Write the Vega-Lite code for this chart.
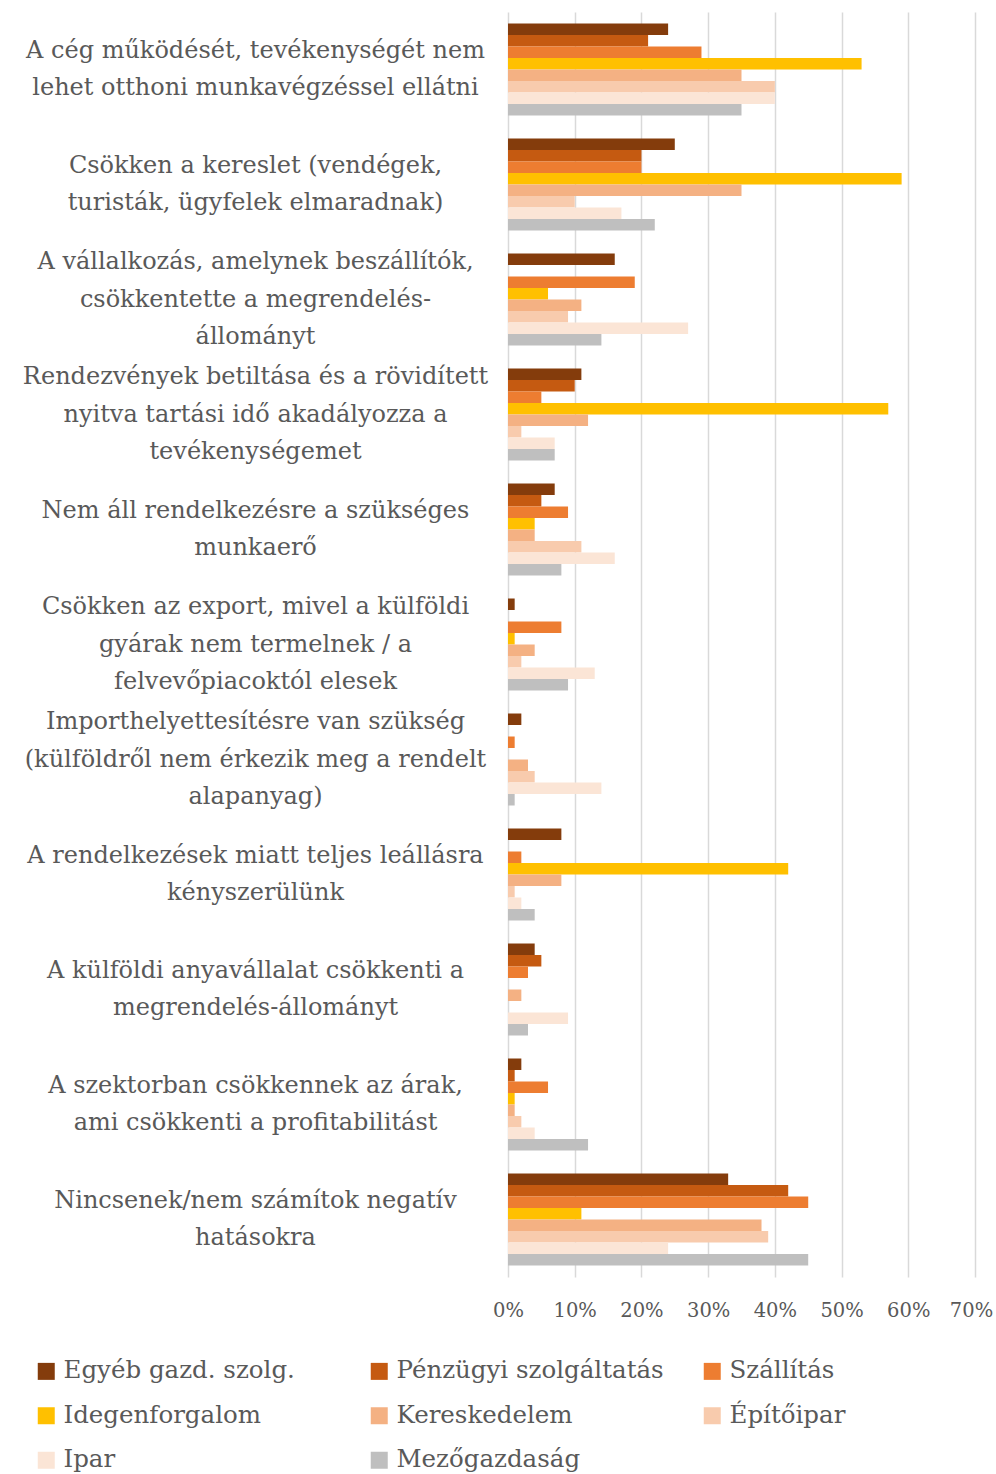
{
  "$schema": "https://vega.github.io/schema/vega-lite/v6.json",
  "autosize": {"type": "none"},
  "padding": {"left": 508, "top": 12, "right": 21, "bottom": 197},
  "width": 467,
  "height": 1265,
  "background": "white",
  "config": {"view": {"stroke": null}, "font": "DejaVu Serif"},
  "data": {"values": [
    {"q": "A cég működését, tevékenységét nem|lehet otthoni munkavégzéssel ellátni", "s": "Egyéb gazd. szolg.", "v": 0.24},
    {"q": "A cég működését, tevékenységét nem|lehet otthoni munkavégzéssel ellátni", "s": "Pénzügyi szolgáltatás", "v": 0.21},
    {"q": "A cég működését, tevékenységét nem|lehet otthoni munkavégzéssel ellátni", "s": "Szállítás", "v": 0.29},
    {"q": "A cég működését, tevékenységét nem|lehet otthoni munkavégzéssel ellátni", "s": "Idegenforgalom", "v": 0.53},
    {"q": "A cég működését, tevékenységét nem|lehet otthoni munkavégzéssel ellátni", "s": "Kereskedelem", "v": 0.35},
    {"q": "A cég működését, tevékenységét nem|lehet otthoni munkavégzéssel ellátni", "s": "Építőipar", "v": 0.40},
    {"q": "A cég működését, tevékenységét nem|lehet otthoni munkavégzéssel ellátni", "s": "Ipar", "v": 0.40},
    {"q": "A cég működését, tevékenységét nem|lehet otthoni munkavégzéssel ellátni", "s": "Mezőgazdaság", "v": 0.35},

    {"q": "Csökken a kereslet (vendégek,|turisták, ügyfelek elmaradnak)", "s": "Egyéb gazd. szolg.", "v": 0.25},
    {"q": "Csökken a kereslet (vendégek,|turisták, ügyfelek elmaradnak)", "s": "Pénzügyi szolgáltatás", "v": 0.20},
    {"q": "Csökken a kereslet (vendégek,|turisták, ügyfelek elmaradnak)", "s": "Szállítás", "v": 0.20},
    {"q": "Csökken a kereslet (vendégek,|turisták, ügyfelek elmaradnak)", "s": "Idegenforgalom", "v": 0.59},
    {"q": "Csökken a kereslet (vendégek,|turisták, ügyfelek elmaradnak)", "s": "Kereskedelem", "v": 0.35},
    {"q": "Csökken a kereslet (vendégek,|turisták, ügyfelek elmaradnak)", "s": "Építőipar", "v": 0.10},
    {"q": "Csökken a kereslet (vendégek,|turisták, ügyfelek elmaradnak)", "s": "Ipar", "v": 0.17},
    {"q": "Csökken a kereslet (vendégek,|turisták, ügyfelek elmaradnak)", "s": "Mezőgazdaság", "v": 0.22},

    {"q": "A vállalkozás, amelynek beszállítók,|csökkentette a megrendelés-|állományt", "s": "Egyéb gazd. szolg.", "v": 0.16},
    {"q": "A vállalkozás, amelynek beszállítók,|csökkentette a megrendelés-|állományt", "s": "Pénzügyi szolgáltatás", "v": 0},
    {"q": "A vállalkozás, amelynek beszállítók,|csökkentette a megrendelés-|állományt", "s": "Szállítás", "v": 0.19},
    {"q": "A vállalkozás, amelynek beszállítók,|csökkentette a megrendelés-|állományt", "s": "Idegenforgalom", "v": 0.06},
    {"q": "A vállalkozás, amelynek beszállítók,|csökkentette a megrendelés-|állományt", "s": "Kereskedelem", "v": 0.11},
    {"q": "A vállalkozás, amelynek beszállítók,|csökkentette a megrendelés-|állományt", "s": "Építőipar", "v": 0.09},
    {"q": "A vállalkozás, amelynek beszállítók,|csökkentette a megrendelés-|állományt", "s": "Ipar", "v": 0.27},
    {"q": "A vállalkozás, amelynek beszállítók,|csökkentette a megrendelés-|állományt", "s": "Mezőgazdaság", "v": 0.14},

    {"q": "Rendezvények betiltása és a rövidített|nyitva tartási idő akadályozza a|tevékenységemet", "s": "Egyéb gazd. szolg.", "v": 0.11},
    {"q": "Rendezvények betiltása és a rövidített|nyitva tartási idő akadályozza a|tevékenységemet", "s": "Pénzügyi szolgáltatás", "v": 0.10},
    {"q": "Rendezvények betiltása és a rövidített|nyitva tartási idő akadályozza a|tevékenységemet", "s": "Szállítás", "v": 0.05},
    {"q": "Rendezvények betiltása és a rövidített|nyitva tartási idő akadályozza a|tevékenységemet", "s": "Idegenforgalom", "v": 0.57},
    {"q": "Rendezvények betiltása és a rövidített|nyitva tartási idő akadályozza a|tevékenységemet", "s": "Kereskedelem", "v": 0.12},
    {"q": "Rendezvények betiltása és a rövidített|nyitva tartási idő akadályozza a|tevékenységemet", "s": "Építőipar", "v": 0.02},
    {"q": "Rendezvények betiltása és a rövidített|nyitva tartási idő akadályozza a|tevékenységemet", "s": "Ipar", "v": 0.07},
    {"q": "Rendezvények betiltása és a rövidített|nyitva tartási idő akadályozza a|tevékenységemet", "s": "Mezőgazdaság", "v": 0.07},

    {"q": "Nem áll rendelkezésre a szükséges|munkaerő", "s": "Egyéb gazd. szolg.", "v": 0.07},
    {"q": "Nem áll rendelkezésre a szükséges|munkaerő", "s": "Pénzügyi szolgáltatás", "v": 0.05},
    {"q": "Nem áll rendelkezésre a szükséges|munkaerő", "s": "Szállítás", "v": 0.09},
    {"q": "Nem áll rendelkezésre a szükséges|munkaerő", "s": "Idegenforgalom", "v": 0.04},
    {"q": "Nem áll rendelkezésre a szükséges|munkaerő", "s": "Kereskedelem", "v": 0.04},
    {"q": "Nem áll rendelkezésre a szükséges|munkaerő", "s": "Építőipar", "v": 0.11},
    {"q": "Nem áll rendelkezésre a szükséges|munkaerő", "s": "Ipar", "v": 0.16},
    {"q": "Nem áll rendelkezésre a szükséges|munkaerő", "s": "Mezőgazdaság", "v": 0.08},

    {"q": "Csökken az export, mivel a külföldi|gyárak nem termelnek / a|felvevőpiacoktól elesek", "s": "Egyéb gazd. szolg.", "v": 0.01},
    {"q": "Csökken az export, mivel a külföldi|gyárak nem termelnek / a|felvevőpiacoktól elesek", "s": "Pénzügyi szolgáltatás", "v": 0},
    {"q": "Csökken az export, mivel a külföldi|gyárak nem termelnek / a|felvevőpiacoktól elesek", "s": "Szállítás", "v": 0.08},
    {"q": "Csökken az export, mivel a külföldi|gyárak nem termelnek / a|felvevőpiacoktól elesek", "s": "Idegenforgalom", "v": 0.01},
    {"q": "Csökken az export, mivel a külföldi|gyárak nem termelnek / a|felvevőpiacoktól elesek", "s": "Kereskedelem", "v": 0.04},
    {"q": "Csökken az export, mivel a külföldi|gyárak nem termelnek / a|felvevőpiacoktól elesek", "s": "Építőipar", "v": 0.02},
    {"q": "Csökken az export, mivel a külföldi|gyárak nem termelnek / a|felvevőpiacoktól elesek", "s": "Ipar", "v": 0.13},
    {"q": "Csökken az export, mivel a külföldi|gyárak nem termelnek / a|felvevőpiacoktól elesek", "s": "Mezőgazdaság", "v": 0.09},

    {"q": "Importhelyettesítésre van szükség|(külföldről nem érkezik meg a rendelt|alapanyag)", "s": "Egyéb gazd. szolg.", "v": 0.02},
    {"q": "Importhelyettesítésre van szükség|(külföldről nem érkezik meg a rendelt|alapanyag)", "s": "Pénzügyi szolgáltatás", "v": 0},
    {"q": "Importhelyettesítésre van szükség|(külföldről nem érkezik meg a rendelt|alapanyag)", "s": "Szállítás", "v": 0.01},
    {"q": "Importhelyettesítésre van szükség|(külföldről nem érkezik meg a rendelt|alapanyag)", "s": "Idegenforgalom", "v": 0},
    {"q": "Importhelyettesítésre van szükség|(külföldről nem érkezik meg a rendelt|alapanyag)", "s": "Kereskedelem", "v": 0.03},
    {"q": "Importhelyettesítésre van szükség|(külföldről nem érkezik meg a rendelt|alapanyag)", "s": "Építőipar", "v": 0.04},
    {"q": "Importhelyettesítésre van szükség|(külföldről nem érkezik meg a rendelt|alapanyag)", "s": "Ipar", "v": 0.14},
    {"q": "Importhelyettesítésre van szükség|(külföldről nem érkezik meg a rendelt|alapanyag)", "s": "Mezőgazdaság", "v": 0.01},

    {"q": "A rendelkezések miatt teljes leállásra|kényszerülünk", "s": "Egyéb gazd. szolg.", "v": 0.08},
    {"q": "A rendelkezések miatt teljes leállásra|kényszerülünk", "s": "Pénzügyi szolgáltatás", "v": 0},
    {"q": "A rendelkezések miatt teljes leállásra|kényszerülünk", "s": "Szállítás", "v": 0.02},
    {"q": "A rendelkezések miatt teljes leállásra|kényszerülünk", "s": "Idegenforgalom", "v": 0.42},
    {"q": "A rendelkezések miatt teljes leállásra|kényszerülünk", "s": "Kereskedelem", "v": 0.08},
    {"q": "A rendelkezések miatt teljes leállásra|kényszerülünk", "s": "Építőipar", "v": 0.01},
    {"q": "A rendelkezések miatt teljes leállásra|kényszerülünk", "s": "Ipar", "v": 0.02},
    {"q": "A rendelkezések miatt teljes leállásra|kényszerülünk", "s": "Mezőgazdaság", "v": 0.04},

    {"q": "A külföldi anyavállalat csökkenti a|megrendelés-állományt", "s": "Egyéb gazd. szolg.", "v": 0.04},
    {"q": "A külföldi anyavállalat csökkenti a|megrendelés-állományt", "s": "Pénzügyi szolgáltatás", "v": 0.05},
    {"q": "A külföldi anyavállalat csökkenti a|megrendelés-állományt", "s": "Szállítás", "v": 0.03},
    {"q": "A külföldi anyavállalat csökkenti a|megrendelés-állományt", "s": "Idegenforgalom", "v": 0},
    {"q": "A külföldi anyavállalat csökkenti a|megrendelés-állományt", "s": "Kereskedelem", "v": 0.02},
    {"q": "A külföldi anyavállalat csökkenti a|megrendelés-állományt", "s": "Építőipar", "v": 0},
    {"q": "A külföldi anyavállalat csökkenti a|megrendelés-állományt", "s": "Ipar", "v": 0.09},
    {"q": "A külföldi anyavállalat csökkenti a|megrendelés-állományt", "s": "Mezőgazdaság", "v": 0.03},

    {"q": "A szektorban csökkennek az árak,|ami csökkenti a profitabilitást", "s": "Egyéb gazd. szolg.", "v": 0.02},
    {"q": "A szektorban csökkennek az árak,|ami csökkenti a profitabilitást", "s": "Pénzügyi szolgáltatás", "v": 0.01},
    {"q": "A szektorban csökkennek az árak,|ami csökkenti a profitabilitást", "s": "Szállítás", "v": 0.06},
    {"q": "A szektorban csökkennek az árak,|ami csökkenti a profitabilitást", "s": "Idegenforgalom", "v": 0.01},
    {"q": "A szektorban csökkennek az árak,|ami csökkenti a profitabilitást", "s": "Kereskedelem", "v": 0.01},
    {"q": "A szektorban csökkennek az árak,|ami csökkenti a profitabilitást", "s": "Építőipar", "v": 0.02},
    {"q": "A szektorban csökkennek az árak,|ami csökkenti a profitabilitást", "s": "Ipar", "v": 0.04},
    {"q": "A szektorban csökkennek az árak,|ami csökkenti a profitabilitást", "s": "Mezőgazdaság", "v": 0.12},

    {"q": "Nincsenek/nem számítok negatív|hatásokra", "s": "Egyéb gazd. szolg.", "v": 0.33},
    {"q": "Nincsenek/nem számítok negatív|hatásokra", "s": "Pénzügyi szolgáltatás", "v": 0.42},
    {"q": "Nincsenek/nem számítok negatív|hatásokra", "s": "Szállítás", "v": 0.45},
    {"q": "Nincsenek/nem számítok negatív|hatásokra", "s": "Idegenforgalom", "v": 0.11},
    {"q": "Nincsenek/nem számítok negatív|hatásokra", "s": "Kereskedelem", "v": 0.38},
    {"q": "Nincsenek/nem számítok negatív|hatásokra", "s": "Építőipar", "v": 0.39},
    {"q": "Nincsenek/nem számítok negatív|hatásokra", "s": "Ipar", "v": 0.24},
    {"q": "Nincsenek/nem számítok negatív|hatásokra", "s": "Mezőgazdaság", "v": 0.45}
  ]},
  "mark": {"type": "bar"},
  "encoding": {
    "y": {
      "field": "q", "type": "nominal", "sort": null,
      "scale": {"paddingInner": 0.2, "paddingOuter": 0.1},
      "axis": {
        "title": null, "domain": false, "ticks": false, "grid": false,
        "labelExpr": "split(datum.label, '|')",
        "labelAlign": "center", "labelBaseline": "middle",
        "labelPadding": 253, "labelLimit": 0,
        "labelOffset": {
          "condition": [
            {"test": "length(split(datum.label, '|')) == 3", "value": -37.5},
            {"test": "length(split(datum.label, '|')) == 2", "value": -18.75}
          ],
          "value": 0
        },
        "labelFont": "DejaVu Serif", "labelFontSize": 24,
        "labelLineHeight": 37.5, "labelColor": "#595959"
      }
    },
    "yOffset": {
      "field": "s", "type": "nominal",
      "sort": ["Egyéb gazd. szolg.", "Pénzügyi szolgáltatás", "Szállítás", "Idegenforgalom", "Kereskedelem", "Építőipar", "Ipar", "Mezőgazdaság"],
      "scale": {"paddingInner": 0, "paddingOuter": 0}
    },
    "x": {
      "field": "v", "type": "quantitative",
      "scale": {"domain": [0, 0.7], "nice": false},
      "axis": {
        "title": null, "orient": "bottom", "format": ".0%",
        "values": [0, 0.1, 0.2, 0.3, 0.4, 0.5, 0.6, 0.7],
        "domain": false, "ticks": false, "labelFlush": false,
        "labelOffset": {"condition": {"test": "datum.value >= 0.7", "value": -4}, "value": 0},
        "grid": true, "gridColor": "#D9D9D9", "gridWidth": 1.5,
        "labelFont": "DejaVu Serif", "labelFontSize": 19.5,
        "labelColor": "#595959", "labelPadding": 33,
        "labelBaseline": "middle"
      }
    },
    "color": {
      "field": "s", "type": "nominal",
      "scale": {
        "domain": ["Egyéb gazd. szolg.", "Pénzügyi szolgáltatás", "Szállítás", "Idegenforgalom", "Kereskedelem", "Építőipar", "Ipar", "Mezőgazdaság"],
        "range": ["#843C0C", "#C55A11", "#ED7D31", "#FFC000", "#F4B183", "#F8CBAD", "#FBE5D6", "#BFBFBF"]
      },
      "legend": {
        "title": null, "orient": "none", "legendX": -474, "legendY": 1347,
        "direction": "horizontal", "columns": 3, "gridAlign": "all",
        "symbolType": "square", "symbolSize": 289, "symbolStrokeWidth": 0,
        "symbolOffset": 0,
        "labelFont": "DejaVu Serif", "labelFontSize": 24.5, "labelColor": "#595959",
        "labelOffset": 5, "labelLimit": 0,
        "columnPadding": 36, "rowPadding": 19.5
      }
    }
  }
}
